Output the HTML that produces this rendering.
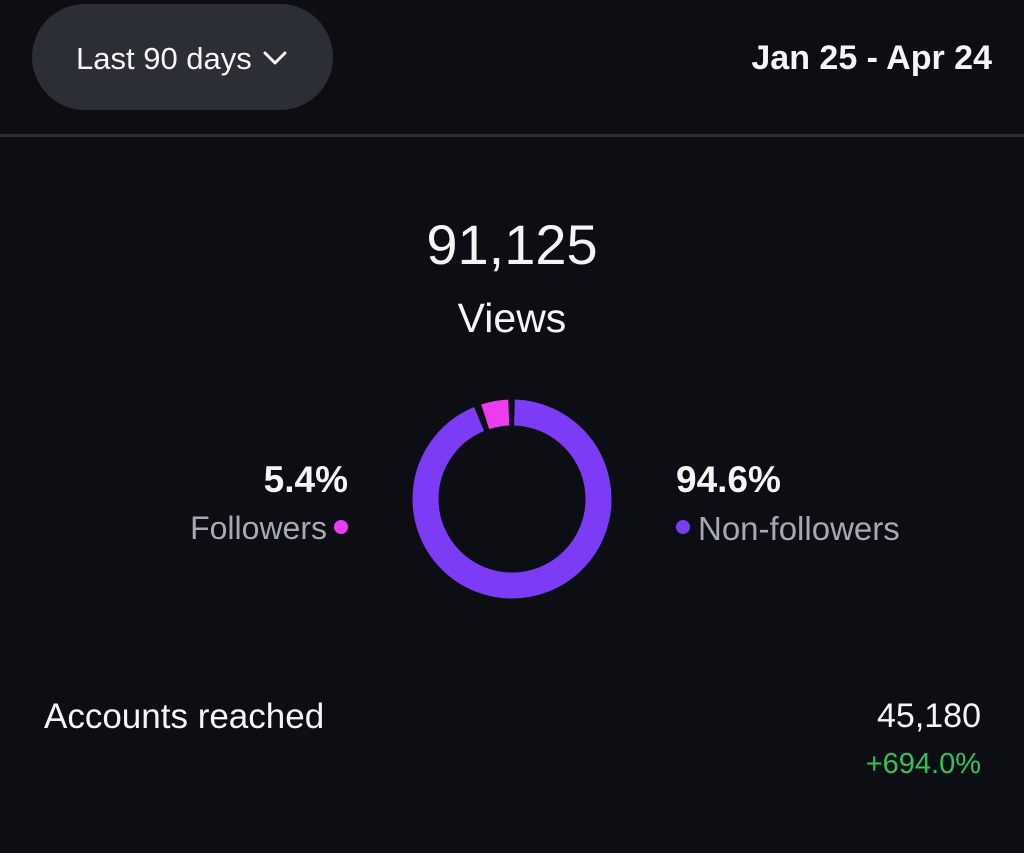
<!DOCTYPE html>
<html><head><meta charset="utf-8"><style>
body{margin:0;width:1024px;height:853px;background:#0c0e13;font-family:"Liberation Sans",sans-serif;color:#f5f5f5;position:relative;overflow:hidden}
.t{position:absolute;white-space:nowrap;line-height:1}
</style></head><body>
<div style="position:absolute;left:32px;top:4px;width:301px;height:106px;border-radius:53px;background:#2b2e35"></div>
<div class="t" style="left:76px;top:43px;font-size:31px">Last 90 days</div>
<svg style="position:absolute;left:262px;top:49px" width="26" height="18"><polyline points="3,4 13,14 23,4" fill="none" stroke="#f5f5f5" stroke-width="3" stroke-linecap="round" stroke-linejoin="round"/></svg>
<div class="t" style="right:32px;top:41px;font-size:34px;font-weight:bold">Jan 25 - Apr 24</div>
<div style="position:absolute;left:0;top:134px;width:1024px;height:3px;background:#2a2d33"></div>
<div class="t" style="left:0;width:1024px;text-align:center;top:217px;font-size:56px">91,125</div>
<div class="t" style="left:0;width:1024px;text-align:center;top:298px;font-size:41px">Views</div>
<svg style="position:absolute;left:0;top:0" width="1024" height="853">
<g transform="translate(512,499) rotate(-90)">
<circle r="86.5" fill="none" stroke="#7c3cf5" stroke-width="26" stroke-dasharray="507 1000" stroke-dashoffset="-2.5"/>
<circle r="86.5" fill="none" stroke="#ec3cf0" stroke-width="26" stroke-dasharray="24 1000" stroke-dashoffset="-516"/>
</g>
<circle cx="341" cy="527" r="7" fill="#ec3cf0"/>
<circle cx="683" cy="527" r="7" fill="#7c3cf5"/>
</svg>
<div class="t" style="right:676px;top:461px;font-size:37px;font-weight:bold">5.4%</div>
<div class="t" style="right:697px;top:512px;font-size:32px;color:#a4a9b2">Followers</div>
<div class="t" style="left:676px;top:461px;font-size:37px;font-weight:bold">94.6%</div>
<div class="t" style="left:698px;top:512px;font-size:33px;color:#a4a9b2">Non-followers</div>
<div class="t" style="left:44px;top:699px;font-size:35px">Accounts reached</div>
<div class="t" style="right:43px;top:699px;font-size:34px">45,180</div>
<div class="t" style="right:43px;top:750px;font-size:29px;color:#2fc25b">+694.0%</div>
</body></html>
